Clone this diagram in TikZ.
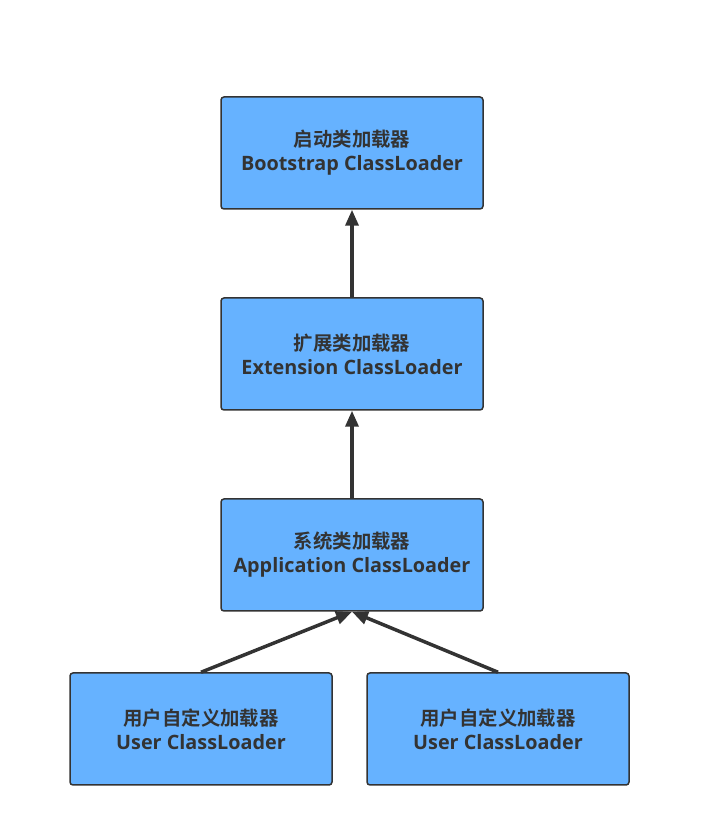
\documentclass[tikz,border=0pt]{standalone}
\usepackage{fontspec}
\setmainfont{Open Sans}
\newfontfamily\cjk{Noto Sans CJK SC}[BoldFont={* Bold}]
\usetikzlibrary{arrows.meta}
\definecolor{loaderblue}{HTML}{66B2FF}
\definecolor{loaderdark}{HTML}{333333}
\tikzset{
  loader/.style={draw=loaderdark, line width=1.5pt, fill=loaderblue, rounded corners=3pt,
    minimum width=262pt, minimum height=112pt, align=center, text=loaderdark,
    font=\fontsize{19.8pt}{24pt}\selectfont\bfseries},
  parent/.style={draw=loaderdark, line width=3.5pt, -{Triangle[length=16pt,width=13pt]}}
}
\newcommand{\zh}[1]{{\cjk\fontsize{19.4pt}{24pt}\selectfont\bfseries #1}}
\begin{document}
\begin{tikzpicture}[x=1pt,y=1pt]
\useasboundingbox (0,0) rectangle (722,826);
\node (boot) [loader] at (352,673) {\zh{启动类加载器}\\Bootstrap ClassLoader};
\node (ext) [loader] at (352,472) {\zh{扩展类加载器}\\Extension ClassLoader};
\node (app) [loader] at (352,271) {\zh{系统类加载器}\\Application ClassLoader};
\node (userA) [loader] at (201,97) {\zh{用户自定义加载器}\\User ClassLoader};
\node (userB) [loader] at (498,97) {\zh{用户自定义加载器}\\User ClassLoader};
\draw [parent] (ext.north) -- (boot.south);
\draw [parent] (app.north) -- (ext.south);
\draw [parent] (userA.north) -- (app.south);
\draw [parent] (userB.north) -- (app.south);
\end{tikzpicture}
\end{document}
